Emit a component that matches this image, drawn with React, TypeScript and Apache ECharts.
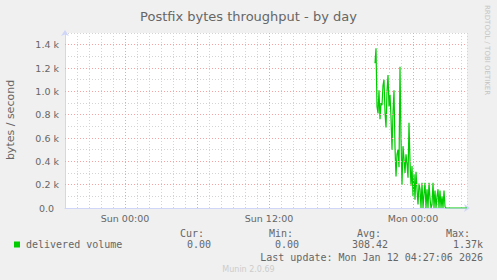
import React, { useEffect, useRef } from "react";
import * as echarts from "echarts";

// time axis in hours relative to Sun 00:00
const xMinHour = -5;
const xMaxHour = 28.5;
const xTickHours = [0, 12, 24];
const xTickLabels = ["Sun 00:00", "Sun 12:00", "Mon 00:00"];
const majorXHours = [0, 6, 12, 18, 24];
const majorYValues = [200, 400, 600, 800, 1000, 1200, 1400];
const yMax = 1500;

// 5-minute samples starting Sun 20:50
const sampleStartHour = 20 + 50 / 60;
const sampleStepHours = 5 / 60;
const deliveredVolume = [
  1240, 1370, 870, 810, 1010, 760, 900, 880, 1050, 1100,
  820, 690, 1000, 1140, 870, 970, 780, 500, 820, 1010,
  520, 270, 460, 500, 350, 1210, 600, 200, 530, 420,
  300, 460, 380, 260, 730, 400, 190, 360, 100, 290,
  70, 310, 160, 30, 210, 160, 0, 217, 0, 120,
  217, 0, 160, 0, 217, 80, 0, 30, 217, 0,
  150, 0, 100, 160, 0, 150, 0, 100, 0, 150,
  10, 0, 0, 0, 0, 0, 0, 0, 0, 0,
  0, 0, 0, 0, 0, 0, 0, 0, 0, 0,
  0, 0, 0,
];

const legendName = "delivered volume";
const legendHeaders = ["Cur:", "Min:", "Avg:", "Max:"];
const legendValues = ["0.00", "0.00", "308.42", "1.37k"];
const lastUpdate = "Last update: Mon Jan 12 04:27:06 2026";
const titleText = "Postfix bytes throughput - by day";
const yAxisName = "bytes / second";
const footer = "Munin 2.0.69";
const watermark = "RRDTOOL / TOBI OETIKER";

const FONT = "#666666";
const MONO = '"DejaVu Sans Mono", monospace';
const SANS = '"DejaVu Sans", sans-serif';

export default function App() {
  const ref = useRef<HTMLDivElement>(null);
  useEffect(() => {
    if (!ref.current) return;
    const chart = echarts.init(ref.current, undefined, { renderer: "svg" });
    const data = deliveredVolume.map((v, i) => [sampleStartHour + i * sampleStepHours, v]);
    const headerRight = [204, 293, 381, 470];
    const valueRight = [211, 299, 388, 483];
    const graphics: any[] = [
      {
        type: "text",
        x: 10,
        y: 120,
        rotation: Math.PI / 2,
        style: { text: yAxisName, fill: FONT, font: `11px ${SANS}`, align: "center", verticalAlign: "middle" },
      },
      {
        type: "text",
        x: 487,
        y: 5,
        rotation: -Math.PI / 2,
        style: { text: watermark, fill: "#c4c4c4", font: `7px ${SANS}`, align: "left", verticalAlign: "middle" },
      },
      { type: "rect", shape: { x: 14, y: 241.5, width: 6, height: 6 }, style: { fill: "#00cc00" } },
      {
        type: "text",
        x: 26,
        y: 244.5,
        style: { text: legendName, fill: FONT, font: `10px ${MONO}`, align: "left", verticalAlign: "middle" },
      },
      {
        type: "text",
        x: 483,
        y: 257,
        style: { text: lastUpdate, fill: FONT, font: `10px ${MONO}`, align: "right", verticalAlign: "middle" },
      },
      {
        type: "text",
        x: 248.5,
        y: 269,
        style: { text: footer, fill: "#cccccc", font: `8px ${SANS}`, align: "center", verticalAlign: "middle" },
      },
    ];
    legendHeaders.forEach((h, i) => {
      graphics.push({
        type: "text",
        x: headerRight[i],
        y: 233,
        style: { text: h, fill: FONT, font: `10px ${MONO}`, align: "right", verticalAlign: "middle" },
      });
      graphics.push({
        type: "text",
        x: valueRight[i],
        y: 244.5,
        style: { text: legendValues[i], fill: FONT, font: `10px ${MONO}`, align: "right", verticalAlign: "middle" },
      });
    });

    chart.setOption({
      animation: false,
      backgroundColor: "#f0f0f0",
      title: {
        text: titleText,
        left: "center",
        top: 5,
        textStyle: { fontSize: 13, fontWeight: "normal", color: FONT, fontFamily: SANS },
      },
      grid: {
        left: 65,
        top: 33,
        width: 402,
        height: 175,
        show: true,
        backgroundColor: "#ffffff",
        borderWidth: 0,
      },
      xAxis: {
        type: "value",
        min: xMinHour,
        max: xMaxHour,
        interval: 1,
        axisLine: {
          show: true,
          onZero: false,
          lineStyle: { color: "#cfd6f8", width: 1 },
          symbol: ["none", "arrow"],
          symbolSize: [6, 6],
          symbolOffset: [0, 3],
        },
        axisTick: { show: false },
        splitLine: { show: true, lineStyle: { color: "#d4d4d4", type: [1, 2], width: 1 } },
        axisLabel: {
          color: FONT,
          fontSize: 9.5,
          fontFamily: SANS,
          margin: 5,
          interval: 0,
          formatter: (v: number) => {
            const idx = xTickHours.indexOf(v);
            return idx >= 0 ? xTickLabels[idx] : "";
          },
        },
      },
      yAxis: {
        type: "value",
        min: 0,
        max: yMax,
        interval: 100,
        axisLine: {
          show: true,
          onZero: false,
          lineStyle: { color: "#cfd6f8", width: 1 },
          symbol: ["none", "arrow"],
          symbolSize: [6, 6],
          symbolOffset: [0, 3],
        },
        axisTick: { show: false },
        splitLine: { show: true, lineStyle: { color: "#d4d4d4", type: [1, 2], width: 1 } },
        axisLabel: {
          color: FONT,
          fontSize: 9.5,
          fontFamily: SANS,
          margin: 6,
          showMaxLabel: false,
          formatter: (v: number) => {
            if (v % 200 !== 0) return "";
            if (v === 0) return "{z|0.0}";
            return (v / 1000).toFixed(1) + " k";
          },
          rich: { z: { color: FONT, fontSize: 9.5, fontFamily: SANS, padding: [0, 5, 0, 0] } },
        },
      },
      series: [
        {
          type: "line",
          data: [],
          z: 1,
          silent: true,
          markLine: {
            silent: true,
            symbol: ["none", "none"],
            label: { show: false },
            animation: false,
            lineStyle: { color: "#f5a3a3", type: [1, 2], width: 1 },
            data: [
              ...majorXHours.map((h) => ({ xAxis: h })),
              ...majorYValues.map((v) => ({ yAxis: v })),
            ],
          },
        },
        {
          name: legendName,
          type: "line",
          data,
          z: 3,
          showSymbol: false,
          symbol: "none",
          lineStyle: { color: "#00cc00", width: 1.2 },
          itemStyle: { color: "#00cc00" },
        },
      ],
      graphic: graphics,
    });
    return () => chart.dispose();
  }, []);
  return (
    <div
      ref={ref}
      style={{ position: "fixed", left: 0, top: 0, width: 497, height: 280 }}
    />
  );
}
